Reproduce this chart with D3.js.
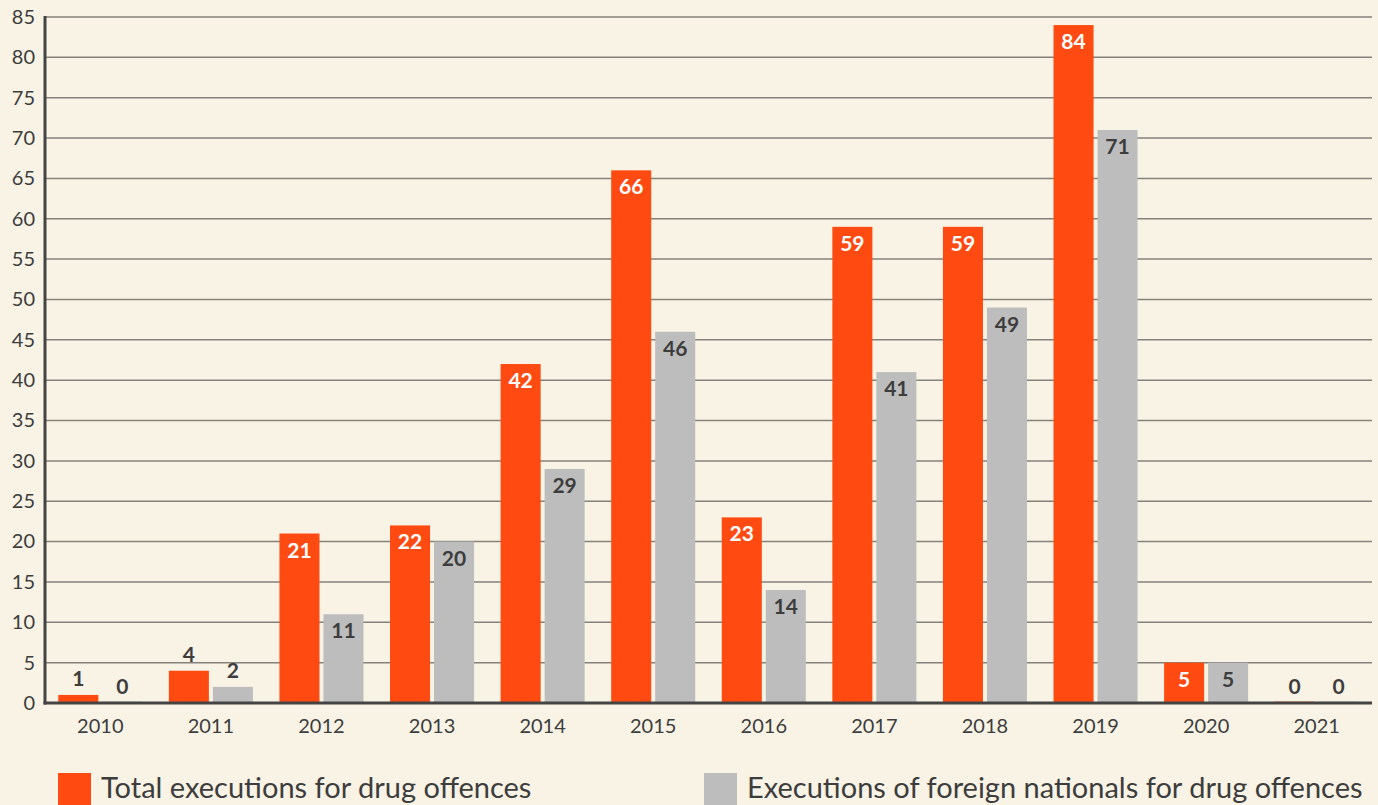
<!DOCTYPE html>
<html>
<head>
<meta charset="utf-8">
<script src="https://cdn.jsdelivr.net/npm/d3@7"></script>
<style>
  html, body { margin: 0; padding: 0; background: #f9f3e6; }
  svg { display: block; font-family: Lato, "Noto Sans", sans-serif; }
</style>
</head>
<body>
<div id="chart"></div>
<script>
'use strict';
var years = ['2010', '2011', '2012', '2013', '2014', '2015', '2016', '2017', '2018', '2019', '2020', '2021'];
var totalExec = [1, 4, 21, 22, 42, 66, 23, 59, 59, 84, 5, 0];
var foreignExec = [0, 2, 11, 20, 29, 46, 14, 41, 49, 71, 5, 0];
var yTicks = d3.range(0, 86, 5);
var seriesNames = ['Total executions for drug offences', 'Executions of foreign nationals for drug offences'];
var seriesColors = ['#ff4a12', '#bdbdbd'];

var width = 1378, height = 805;
var plotLeft = 45, plotRight = 1372, plotTop = 17, plotBottom = 703;
var textColor = '#3d3d3d';
var fontStack = 'Lato, "Noto Sans", sans-serif';

var svg = d3.select('#chart').append('svg')
    .attr('width', width)
    .attr('height', height);

svg.append('rect').attr('width', width).attr('height', height).attr('fill', '#f9f3e6');

var x = d3.scaleBand()
    .domain(years)
    .range([plotLeft, plotRight])
    .paddingInner(0.24)
    .paddingOuter(0.12);

var keys = ['total', 'foreign'];
var xInner = d3.scaleBand()
    .domain(keys)
    .range([0, x.bandwidth()])
    .paddingInner(0.09);

var y = d3.scaleLinear().domain([0, 85]).range([plotBottom, plotTop]);

// gridlines
svg.append('g')
    .selectAll('line')
    .data(yTicks.filter(function (d) { return d > 0; }))
    .enter().append('line')
    .attr('x1', plotLeft).attr('x2', plotRight)
    .attr('y1', function (d) { return y(d); })
    .attr('y2', function (d) { return y(d); })
    .attr('stroke', '#85827c')
    .attr('stroke-width', 1.5);

var rows = years.map(function (yr, i) {
    return { year: yr, total: totalExec[i], foreign: foreignExec[i] };
});

var groups = svg.append('g').selectAll('g')
    .data(rows)
    .enter().append('g')
    .attr('transform', function (d) { return 'translate(' + x(d.year) + ',0)'; });

groups.selectAll('rect')
    .data(function (d) { return keys.map(function (k, i) { return { key: k, value: d[k], idx: i }; }); })
    .enter().append('rect')
    .attr('x', function (d) { return xInner(d.key); })
    .attr('width', xInner.bandwidth())
    .attr('y', function (d) { return d.value === 0 ? y(0) - 2 : y(d.value); })
    .attr('height', function (d) { return d.value === 0 ? 2 : y(0) - y(d.value); })
    .attr('fill', function (d) { return seriesColors[d.idx]; })
    .attr('opacity', function (d) { return d.value === 0 ? 0.35 : 1; });

groups.selectAll('text')
    .data(function (d) { return keys.map(function (k, i) { return { key: k, value: d[k], idx: i }; }); })
    .enter().append('text')
    .attr('x', function (d) { return xInner(d.key) + xInner.bandwidth() / 2; })
    .attr('y', function (d) {
        return d.value >= 5 ? y(d.value) + 24 : y(d.value) - 9;
    })
    .attr('text-anchor', 'middle')
    .style('font-size', '21px')
    .style('font-weight', 'bold')
    .attr('fill', function (d) { return (d.value >= 5 && d.idx === 0) ? '#ffffff' : textColor; })
    .text(function (d) { return d.value; });

// axes
var yAxis = svg.append('g')
    .attr('transform', 'translate(' + plotLeft + ',0)')
    .call(d3.axisLeft(y).tickValues(yTicks).tickSize(0).tickPadding(10))
    .attr('font-family', fontStack);
yAxis.select('.domain').remove();
yAxis.selectAll('text').style('font-size', '20px').attr('fill', textColor);

var xAxis = svg.append('g')
    .attr('transform', 'translate(0,' + plotBottom + ')')
    .call(d3.axisBottom(x).tickSize(0).tickPadding(16))
    .attr('font-family', fontStack);
xAxis.select('.domain').remove();
xAxis.selectAll('text').style('font-size', '20px').attr('fill', textColor);

svg.append('line')
    .attr('x1', plotLeft).attr('x2', plotLeft)
    .attr('y1', plotTop - 1).attr('y2', plotBottom + 1.5)
    .attr('stroke', '#444').attr('stroke-width', 3);
svg.append('line')
    .attr('x1', plotLeft - 1.5).attr('x2', plotRight)
    .attr('y1', plotBottom).attr('y2', plotBottom)
    .attr('stroke', '#444').attr('stroke-width', 3);

// legend
var legendX = [58, 704];
var legend = svg.append('g').selectAll('g')
    .data(seriesNames)
    .enter().append('g')
    .attr('transform', function (d, i) { return 'translate(' + legendX[i] + ',773)'; });
legend.append('rect')
    .attr('width', 33).attr('height', 33)
    .attr('fill', function (d, i) { return seriesColors[i]; });
legend.append('text')
    .attr('x', 43).attr('y', 25)
    .style('font-size', '29px')
    .attr('fill', textColor)
    .text(function (d) { return d; });
</script>
</body>
</html>
